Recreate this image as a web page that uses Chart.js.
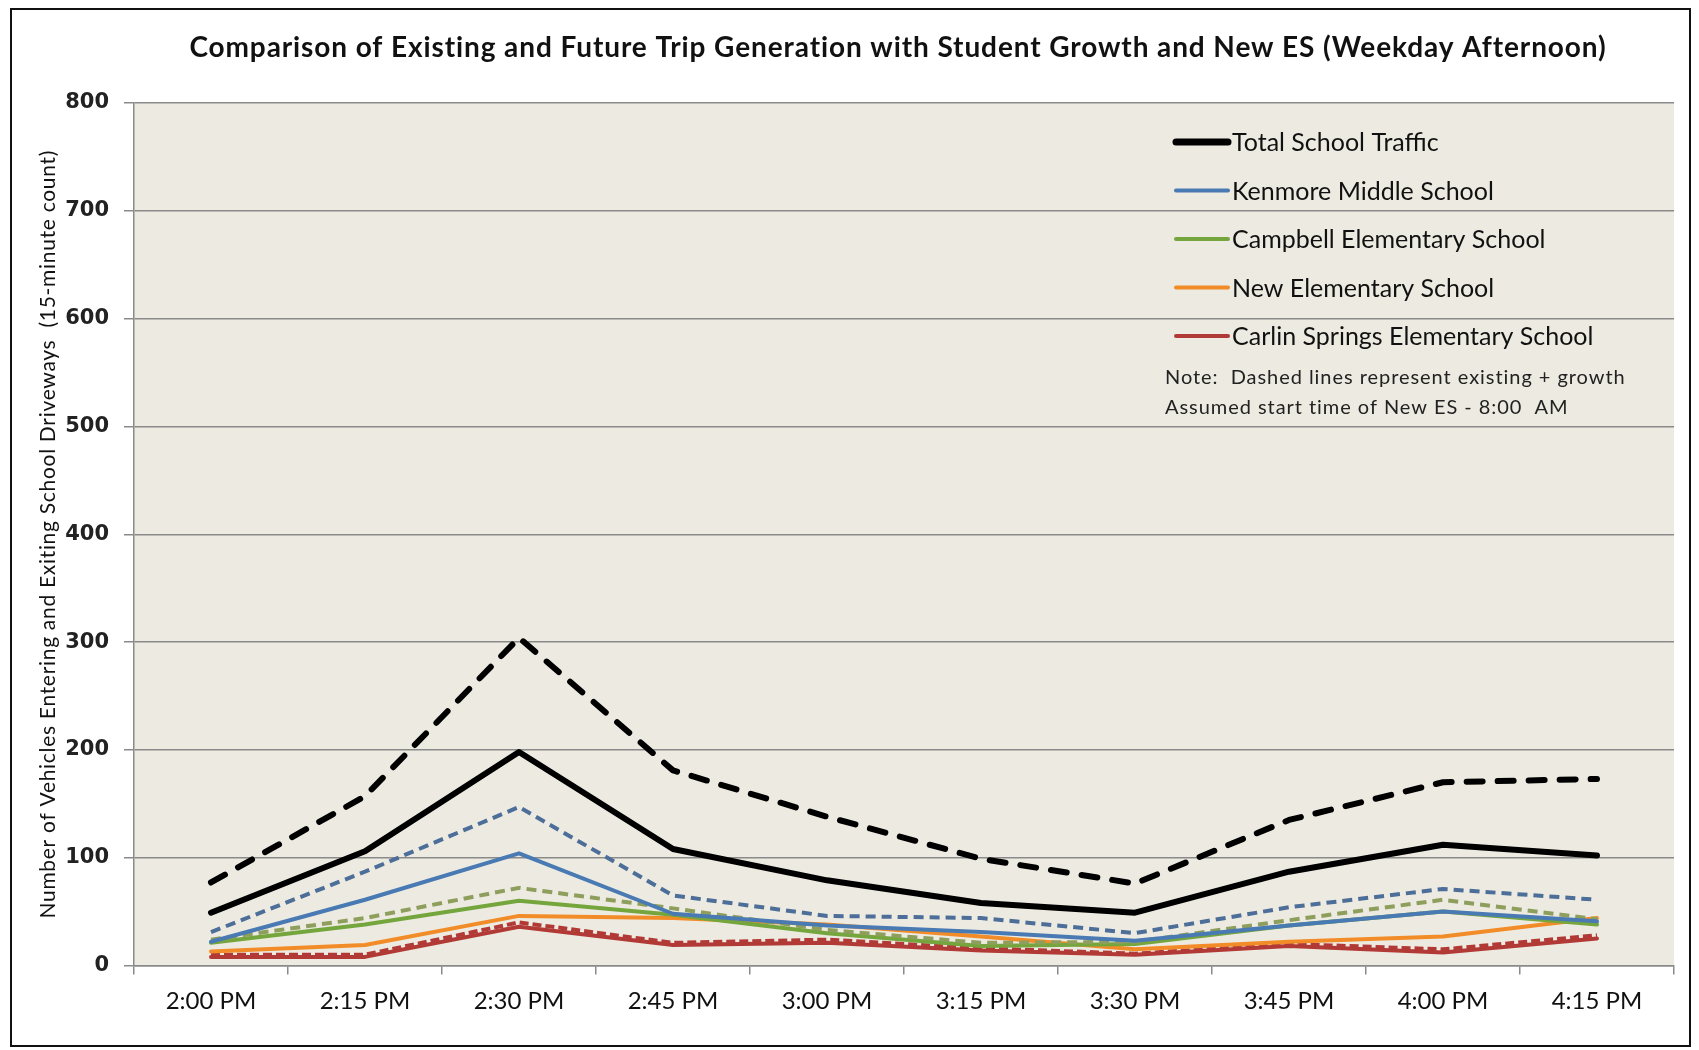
<!DOCTYPE html>
<html lang="en">
<head>
  <meta charset="UTF-8">
  <title>Trip Generation Comparison</title>
  <style>
    body { margin: 0; background: #fff; }
    canvas { display: block; }
  </style>
</head>
<body>
  <canvas id="tripChart" width="1699" height="1050"></canvas>

  <script src="https://cdn.jsdelivr.net/npm/chart.js"></script>
  <script>
    // time slots on the x axis
    const timeLabels = ['2:00 PM', '2:15 PM', '2:30 PM', '2:45 PM', '3:00 PM',
      '3:15 PM', '3:30 PM', '3:45 PM', '4:00 PM', '4:15 PM'];

    // dashed = existing + growth, solid = existing / new school
    const totalGrowth     = [77, 157, 304, 181, 138, 99, 76, 135, 170, 173];
    const totalTraffic    = [49, 106, 198, 108, 79, 58, 49, 87, 112, 102];
    const kenmoreGrowth   = [31, 87, 147, 65, 46, 44, 30, 54, 71, 61];
    const kenmore         = [22, 61, 104, 48, 37, 31, 23, 37, 50, 41];
    const campbellGrowth  = [24, 44, 72, 53, 33, 21, 22, 42, 61, 43];
    const campbell        = [21, 38, 60, 47, 30, 18, 20, 37, 50, 38];
    const newElementary   = [13, 19, 46, 44, 38, 27, 15, 22, 27, 44];
    const carlinGrowth    = [10, 10, 40, 21, 24, 16, 11, 20, 15, 28];
    const carlin          = [8, 8, 36, 19, 21, 14, 10, 18, 12, 25];

    const yTicks = [0, 100, 200, 300, 400, 500, 600, 700, 800];

    const chartTitle = 'Comparison of Existing and Future Trip Generation with Student Growth and New ES (Weekday Afternoon)';
    const yTitle = 'Number of Vehicles Entering and Exiting School Driveways  (15-minute count)';
    const noteLines = ['Note:  Dashed lines represent existing + growth', 'Assumed start time of New ES - 8:00  AM'];

    const BLACK = '#000000';
    const BLUE = '#4A7AB3';
    const BLUE_D = '#4C6E98';
    const GREEN = '#74A63D';
    const GREEN_D = '#8E9E5C';
    const ORANGE = '#F28C28';
    const RED = '#B23A36';

    function solid(label, data, color, width) {
      return {
        label, data, borderColor: color, backgroundColor: color,
        borderWidth: width, pointRadius: 0, tension: 0, fill: false,
        borderCapStyle: 'round', borderJoinStyle: 'round'
      };
    }
    function dashed(data, color, width, dash) {
      return {
        label: '', data, borderColor: color, backgroundColor: color,
        borderWidth: width, borderDash: dash, pointRadius: 0, tension: 0, fill: false,
        borderCapStyle: width > 5 ? 'round' : 'butt', borderJoinStyle: 'round'
      };
    }

    // frame, plot background, title, y axis title
    const chartDecor = {
      id: 'chartDecor',
      beforeDraw(chart) {
        const { ctx, chartArea: a } = chart;
        ctx.save();
        ctx.fillStyle = '#ffffff';
        ctx.fillRect(0, 0, chart.width, chart.height);
        ctx.fillStyle = '#EDEBE1';
        ctx.fillRect(a.left, a.top, a.right - a.left, a.bottom - a.top);
        ctx.strokeStyle = '#111';
        ctx.lineWidth = 2;
        ctx.strokeRect(11, 9, 1679, 1037);
        ctx.restore();
      },
      afterDraw(chart) {
        const { ctx, chartArea: a } = chart;
        ctx.save();
        ctx.fillStyle = '#111';
        ctx.font = 'bold 28px Lato';
        ctx.letterSpacing = '0.9px';
        ctx.textAlign = 'center';
        ctx.textBaseline = 'middle';
        ctx.fillText(chartTitle, 898, 48);

        ctx.font = '21px Lato';
        ctx.letterSpacing = '0.7px';
        ctx.translate(48, (a.top + a.bottom) / 2);
        ctx.rotate(-Math.PI / 2);
        ctx.fillText(yTitle, 0, 0);
        ctx.restore();
      }
    };

    // legend drawn inside the plot, solid series only, plus the note
    const insideLegend = {
      id: 'insideLegend',
      afterDraw(chart) {
        const ctx = chart.ctx;
        ctx.save();
        let row = 0;
        chart.data.datasets.forEach(ds => {
          if (!ds.label) return;
          const y = 142 + row * 48.5;
          ctx.strokeStyle = ds.borderColor;
          ctx.lineWidth = ds.borderWidth > 5 ? 7 : 4;
          ctx.lineCap = 'round';
          ctx.beginPath();
          ctx.moveTo(1176, y);
          ctx.lineTo(1228, y);
          ctx.stroke();
          ctx.fillStyle = '#111';
          ctx.font = '25px Lato';
          ctx.textAlign = 'left';
          ctx.textBaseline = 'middle';
          ctx.fillText(ds.label, 1232, y + 1);
          row++;
        });
        ctx.fillStyle = '#222';
        ctx.font = '20px Lato';
        ctx.letterSpacing = '0.95px';
        noteLines.forEach((t, i) => ctx.fillText(t, 1165, 378 + i * 30));
        ctx.restore();
      }
    };

    const ctx = document.getElementById('tripChart').getContext('2d');
    new Chart(ctx, {
      type: 'line',
      data: {
        labels: timeLabels,
        datasets: [
          dashed(totalGrowth, BLACK, 6, [16, 15]),
          solid('Total School Traffic', totalTraffic, BLACK, 6),
          dashed(kenmoreGrowth, BLUE_D, 4, [10, 6]),
          solid('Kenmore Middle School', kenmore, BLUE, 4),
          dashed(campbellGrowth, GREEN_D, 4, [10, 6]),
          solid('Campbell Elementary School', campbell, GREEN, 4),
          solid('New Elementary School', newElementary, ORANGE, 4),
          dashed(carlinGrowth, RED, 4, [9, 4]),
          solid('Carlin Springs Elementary School', carlin, RED, 4)
        ]
      },
      options: {
        responsive: false,
        devicePixelRatio: 1,
        animation: false,
        layout: { padding: { left: 0, top: 103, right: 25, bottom: 0 } },
        plugins: {
          legend: { display: false },
          title: { display: false },
          tooltip: { enabled: false }
        },
        scales: {
          x: {
            offset: true,
            grid: {
              offset: true, drawOnChartArea: false, drawTicks: true,
              tickLength: 9, color: '#8a8a8a', lineWidth: 1.5
            },
            border: { color: '#8a8a8a', width: 1.5 },
            ticks: { color: '#111', font: { family: 'Lato', size: 24 }, padding: 12, maxRotation: 0 },
            afterFit(scale) { scale.height = 84.5; }
          },
          y: {
            min: 0,
            max: 800,
            afterBuildTicks(scale) { scale.ticks = yTicks.map(v => ({ value: v })); },
            grid: { color: '#8a8a8a', lineWidth: 1.5, tickLength: 10 },
            border: { color: '#8a8a8a', width: 1.5 },
            ticks: { color: '#222', font: { family: 'DejaVu Sans', size: 21, weight: 'bold' }, padding: 15 },
            afterFit(scale) { scale.width = 134; }
          }
        }
      },
      plugins: [chartDecor, insideLegend]
    });
  </script>
</body>
</html>
